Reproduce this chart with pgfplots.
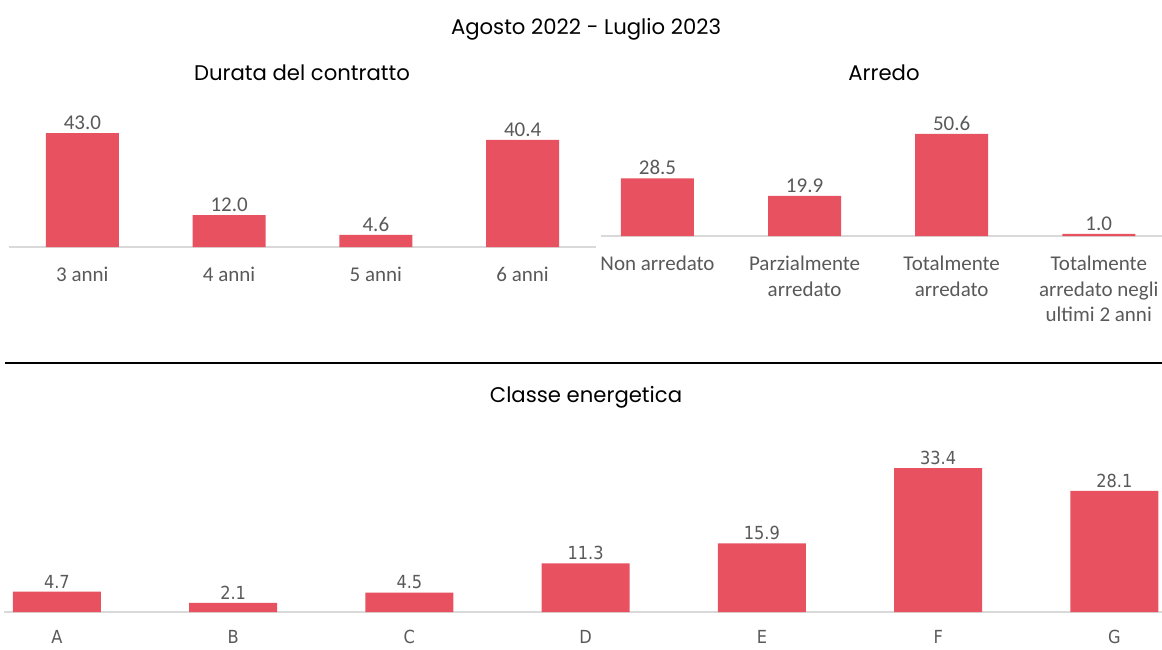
\documentclass[border=0pt]{standalone}
\usepackage{fontspec}
\setmainfont{Carlito}
\newfontfamily\poppins{Poppins}
\newfontfamily\djc{DejaVu Sans Condensed}
\usepackage{pgfplots}
\pgfplotsset{compat=1.18}
\definecolor{barred}{HTML}{E85260}
\definecolor{lblgray}{HTML}{595959}
\definecolor{linegray}{HTML}{D9D9D9}
\pgfplotsset{
  base/.style={
    ybar, scale only axis, clip=false,
    ymin=0, xtick=data, ytick=\empty,
    axis x line*=bottom, axis y line=none,
    x axis line style={-, draw=linegray, line width=1.5pt},
    major tick length=0pt,
    /pgf/number format/assume math mode=true,
    nodes near coords,
    nodes near coords style={text=lblgray, /pgf/number format/fixed, /pgf/number format/fixed zerofill, /pgf/number format/precision=1},
    ticklabel style={text=lblgray},
  },
  topfont/.style={
    nodes near coords style={font=\fontsize{21}{25.5}\selectfont},
    xticklabel style={font=\fontsize{21}{25.5}\selectfont, align=center, yshift=-16.5pt},
  },
}
\begin{document}
\begin{tikzpicture}
\useasboundingbox (0,0) rectangle (1162pt,-650pt);
% titles
\node[font=\poppins\fontsize{21.2}{25}\selectfont] at (586pt,-29pt) {Agosto 2022 - Luglio 2023};
\node[font=\poppins\fontsize{21.2}{25}\selectfont] at (302pt,-73pt) {Durata del contratto};
\node[font=\poppins\fontsize{21.2}{25}\selectfont] at (884pt,-73pt) {Arredo};
\node[font=\poppins\fontsize{21.2}{25}\selectfont] at (586pt,-397pt) {Classe energetica};
\draw[black, line width=2.5pt] (5pt,-363pt) -- (1162pt,-363pt);

\begin{axis}[base, topfont, at={(9pt,-247pt)}, anchor=south west,
  width=587pt, height=132.5pt, xmin=-0.5, xmax=3.5, ymax=50, bar width=73pt,
  xticklabels={3 anni, 4 anni, 5 anni, 6 anni}]
\addplot[fill=barred, draw=none] coordinates {(0,43.0) (1,12.0) (2,4.6) (3,40.4)};
\end{axis}

\begin{axis}[base, topfont, at={(601pt,-236pt)}, anchor=south west,
  width=561pt, height=121.2pt, xmin=-0.384, xmax=3.43, ymax=60, bar width=73pt,
  xticklabels={Non arredato, {Parzialmente\\arredato}, {Totalmente\\arredato}, {Totalmente\\arredato negli\\ultimi 2 anni}}]
\addplot[fill=barred, draw=none] coordinates {(0,28.5) (1,19.9) (2,50.6) (3,1.0)};
\end{axis}

\begin{axis}[base, at={(4pt,-612pt)}, anchor=south west,
  width=1158pt, height=172.4pt, xmin=-0.3, xmax=6.27, ymax=40, bar width=88pt,
  nodes near coords style={font=\djc\fontsize{18}{22}\selectfont},
  xticklabel style={font=\djc\fontsize{18}{22}\selectfont, yshift=-15pt},
  xticklabels={A, B, C, D, E, F, G}]
\addplot[fill=barred, draw=none] coordinates {(0,4.7) (1,2.1) (2,4.5) (3,11.3) (4,15.9) (5,33.4) (6,28.1)};
\end{axis}
\end{tikzpicture}
\end{document}
